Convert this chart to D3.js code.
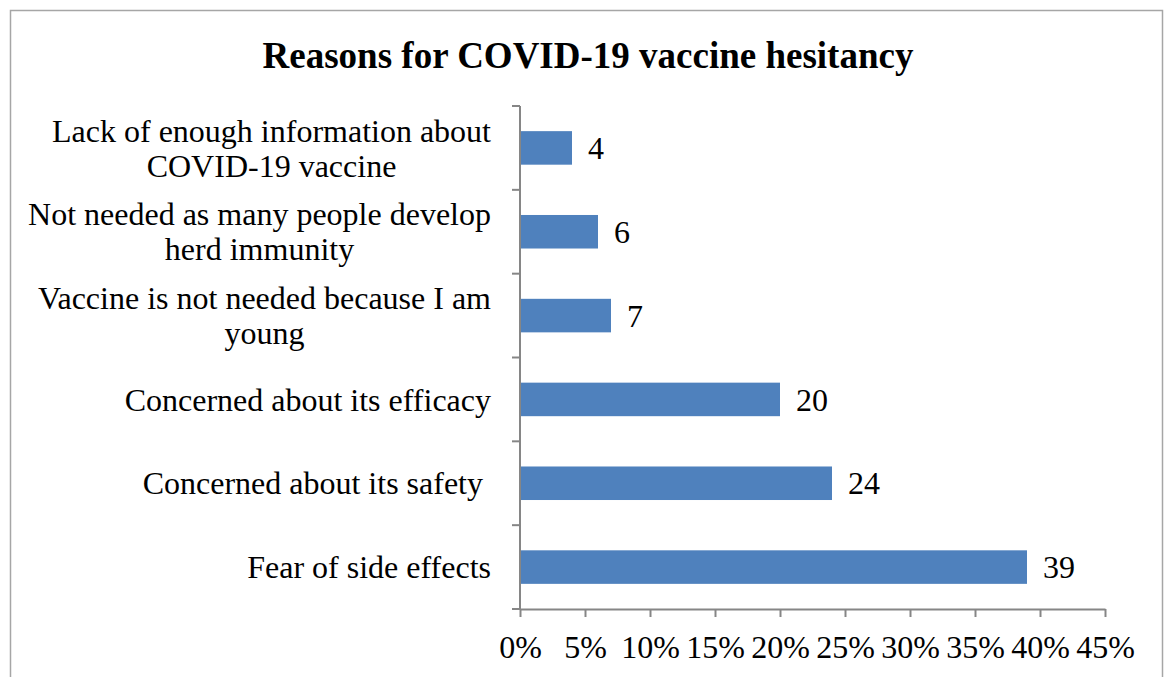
<!DOCTYPE html>
<html><head><meta charset="utf-8">
<script src="https://cdn.jsdelivr.net/npm/d3@7/dist/d3.min.js"></script>
<style>body{margin:0;background:#fff}svg{display:block}</style>
</head><body>
<svg id="chart" width="1168" height="677"></svg>
<script>
const categories = [
  ["Lack of enough information about", "COVID-19 vaccine"],
  ["Not needed as many people develop", "herd immunity"],
  ["Vaccine is not needed because I am", "young"],
  ["Concerned about its efficacy"],
  ["Concerned about its safety "],
  ["Fear of side effects"]
];
const values = [4, 6, 7, 20, 24, 39];
const xTicks = [0, 5, 10, 15, 20, 25, 30, 35, 40, 45];
const title = "Reasons for COVID-19 vaccine hesitancy";

const svg = d3.select("#chart");
const font = "'Liberation Serif', 'Times New Roman', serif";
const axisColor = "#868686";

svg.append("rect").attr("x", 10.5).attr("y", 10.5).attr("width", 1152).attr("height", 700)
  .attr("fill", "#fff").attr("stroke", "#a6a6a6").attr("stroke-width", 1.5);

svg.append("text").attr("x", 588).attr("y", 68).attr("text-anchor", "middle")
  .attr("font-family", font).attr("font-weight", "bold").attr("font-size", 37).text(title);

const x = d3.scaleLinear().domain([0, 45]).range([520, 1105]);
const y = d3.scaleBand().domain(d3.range(categories.length)).range([106, 609]).paddingInner(0.6).paddingOuter(0.3);
const yb = d3.scaleBand().domain(d3.range(categories.length)).range([106, 609]);

// bars
svg.selectAll("rect.bar").data(values).join("rect").attr("class", "bar")
  .attr("x", x(0)).attr("y", (d, i) => y(i)).attr("width", d => x(d) - x(0)).attr("height", y.bandwidth())
  .attr("fill", "#4F81BD");

// value labels
svg.selectAll("text.val").data(values).join("text").attr("class", "val")
  .attr("x", d => x(d) + 16).attr("y", (d, i) => y(i) + y.bandwidth() / 2).attr("dy", "0.35em")
  .attr("font-family", font).attr("font-size", 32).text(d => d);

// y axis
const ya = svg.append("g");
ya.append("line").attr("x1", 520).attr("x2", 520).attr("y1", 106).attr("y2", 609).attr("stroke", axisColor).attr("stroke-width", 2);
const bounds = d3.range(categories.length + 1).map(i => i < categories.length ? yb(i) : yb.range()[1]);
ya.selectAll("line.t").data(bounds).join("line").attr("class", "t")
  .attr("x1", 512).attr("x2", 520).attr("y1", d => d).attr("y2", d => d).attr("stroke", axisColor).attr("stroke-width", 2);

// category labels
categories.forEach((lines, i) => {
  const cy = yb(i) + yb.bandwidth() / 2;
  const lh = 35;
  const g = svg.append("text").attr("font-family", font).attr("font-size", 32).attr("fill", "#000");
  if (lines.length === 1) {
    g.attr("x", 491).attr("y", cy).attr("dy", "0.35em").attr("text-anchor", "end").attr("xml:space", "preserve").style("white-space", "pre").text(lines[0]);
  } else {
    const t1 = g.append("tspan").attr("x", 491).attr("y", cy - lh / 2).attr("dy", "0.35em").attr("text-anchor", "end").text(lines[0]);
    const w = t1.node().getComputedTextLength();
    g.append("tspan").attr("x", 491 - w / 2).attr("y", cy + lh / 2).attr("dy", "0.35em").attr("text-anchor", "middle").text(lines[1]);
  }
});

// x axis
const xa = svg.append("g").attr("transform", "translate(0,609)");
xa.call(d3.axisBottom(x).tickValues(xTicks).tickFormat(d => d + "%").tickSize(8).tickSizeOuter(0).tickPadding(18));
xa.select(".domain").attr("stroke", axisColor).attr("stroke-width", 2);
xa.selectAll(".tick line").attr("stroke", axisColor).attr("stroke-width", 2);
xa.selectAll(".tick text").attr("font-family", font).attr("font-size", 32).attr("fill", "#000");
</script>
</body></html>
